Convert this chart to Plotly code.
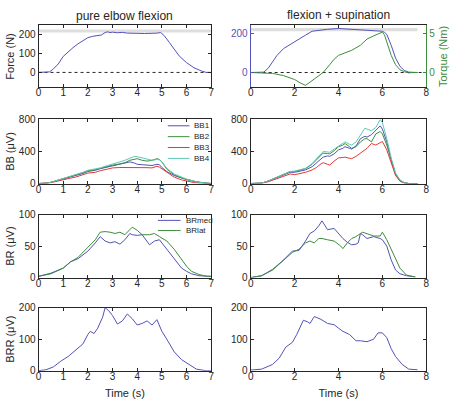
import plotly.graph_objects as go

W, H = 452, 400

# ---------------- data ----------------
# Row 1: force (N) and torque (Nm)
t_force_L = [0, 0.3, 0.45, 0.6, 0.8, 1.0, 1.2, 1.4, 1.6, 1.8, 2.0, 2.2, 2.4, 2.55, 2.7, 2.8, 2.9, 3.0, 3.2, 3.4, 3.6, 3.8, 4.0, 4.3, 4.6, 4.8, 4.95, 5.1, 5.3, 5.5, 5.7, 6.0, 6.3, 6.6, 6.8, 7.0]
force_L   = [0, 0, 3, 18, 45, 85, 110, 132, 152, 170, 185, 192, 195, 199, 212, 216, 212, 214, 211, 213, 209, 210, 208, 207, 206, 209, 212, 195, 160, 122, 88, 52, 25, 8, 0, 0]

t_force_R = [0, 0.4, 0.6, 0.8, 1.0, 1.2, 1.5, 1.8, 2.0, 2.2, 2.5, 2.8, 3.0, 3.5, 4.0, 4.5, 5.0, 5.5, 6.0, 6.1, 6.2, 6.4, 6.6, 6.8, 7.0, 7.2, 7.4, 7.6]
force_R   = [0, 0, 2, 22, 55, 88, 123, 145, 156, 172, 192, 212, 215, 222, 226, 223, 219, 216, 212, 206, 196, 140, 74, 32, 10, 2, 0, 0]

t_torque = [0, 0.5, 1.0, 1.5, 2.0, 2.3, 2.5, 2.7, 3.0, 3.3, 3.6, 3.8, 4.0, 4.3, 4.6, 5.0, 5.3, 5.6, 5.9, 6.0, 6.1, 6.2, 6.4, 6.6, 6.8, 7.0, 7.2, 7.4, 7.6]
torque   = [0, -0.02, -0.12, -0.4, -0.9, -1.4, -1.65, -1.25, -0.6, 0.0, 1.0, 1.7, 2.2, 2.55, 2.85, 3.5, 4.3, 4.7, 5.05, 5.2, 4.8, 3.9, 2.2, 1.0, 0.35, 0.1, -0.05, 0.0, 0.0]

# Row 2: BB channels (uV)
bb_names = ["BB1", "BB2", "BB3", "BB4"]
t_bb_L = [0, 0.3, 0.5, 0.8, 1.0, 1.3, 1.5, 1.8, 2.0, 2.3, 2.5, 2.8, 3.0, 3.3, 3.5, 3.7, 3.9, 4.0, 4.2, 4.4, 4.6, 4.8, 4.9, 5.0, 5.2, 5.5, 5.8, 6.0, 6.3, 6.5, 6.8, 7.0]
bb_L = [
    [0, 3, 15, 40, 60, 85, 100, 125, 150, 165, 185, 205, 220, 240, 255, 270, 255, 240, 235, 228, 225, 240, 235, 200, 150, 100, 65, 50, 28, 15, 4, 0],
    [0, 3, 15, 42, 65, 92, 110, 135, 160, 172, 190, 215, 230, 245, 260, 290, 305, 310, 290, 280, 290, 310, 300, 270, 180, 110, 68, 50, 28, 15, 4, 0],
    [0, 2, 10, 32, 50, 68, 80, 105, 130, 140, 160, 180, 195, 200, 200, 205, 205, 205, 200, 198, 195, 215, 205, 185, 140, 80, 45, 30, 12, 5, 1, 0],
    [0, 3, 15, 42, 65, 92, 110, 140, 165, 178, 195, 225, 240, 270, 290, 320, 340, 335, 320, 300, 290, 300, 295, 270, 190, 120, 75, 55, 30, 15, 4, 0],
]
t_bb_R = [0, 0.5, 0.8, 1.0, 1.3, 1.5, 1.8, 2.0, 2.3, 2.5, 2.8, 3.0, 3.2, 3.3, 3.5, 3.6, 3.8, 4.0, 4.2, 4.3, 4.5, 4.6, 4.8, 5.0, 5.2, 5.3, 5.5, 5.7, 5.9, 6.0, 6.2, 6.4, 6.6, 6.8, 7.0, 7.2, 7.6]
bb_R = [
    [0, 5, 30, 50, 80, 100, 140, 140, 160, 170, 210, 260, 310, 330, 345, 340, 370, 420, 440, 460, 440, 430, 470, 560, 590, 580, 610, 660, 720, 680, 520, 300, 120, 40, 10, 0, 0],
    [0, 5, 32, 55, 88, 110, 150, 150, 168, 185, 240, 300, 360, 380, 375, 370, 410, 460, 480, 500, 460, 440, 460, 520, 560, 560, 520, 620, 650, 620, 480, 280, 110, 35, 8, 0, 0],
    [0, 3, 22, 40, 70, 90, 120, 110, 125, 140, 170, 200, 245, 260, 240, 230, 280, 320, 325, 330, 315, 310, 340, 380, 420, 440, 500, 480, 510, 525, 420, 250, 100, 30, 5, 0, 0],
    [0, 5, 32, 55, 88, 110, 150, 155, 172, 190, 250, 310, 380, 400, 395, 390, 430, 470, 500, 520, 490, 480, 520, 600, 690, 680, 660, 700, 800, 760, 560, 320, 130, 45, 10, 0, 0],
]

# Row 3: BR channels (uV)
br_names = ["BRmed", "BRlat"]
t_br_L = [0, 0.5, 1.0, 1.3, 1.6, 2.0, 2.3, 2.5, 2.7, 2.9, 3.1, 3.3, 3.5, 3.7, 3.8, 4.0, 4.2, 4.5, 4.7, 4.9, 5.2, 5.5, 5.8, 6.0, 6.2, 6.5, 6.8, 7.0]
br_L = [
    [2, 7, 15, 25, 30, 42, 55, 65, 58, 55, 57, 53, 60, 70, 68, 67, 68, 52, 58, 60, 45, 30, 15, 10, 6, 3, 2, 2],
    [2, 6, 15, 25, 32, 48, 60, 72, 73, 72, 70, 72, 68, 76, 80, 75, 68, 68, 70, 65, 58, 45, 28, 18, 10, 5, 2, 2],
]
t_br_R = [0, 0.5, 1.0, 1.5, 1.9, 2.2, 2.5, 2.7, 2.9, 3.1, 3.25, 3.5, 3.8, 4.1, 4.2, 4.4, 4.6, 4.8, 4.9, 5.0, 5.1, 5.3, 5.6, 5.9, 6.0, 6.2, 6.4, 6.6, 6.8, 7.1, 7.5]
br_R = [
    [0, 3, 13, 28, 42, 43, 58, 70, 74, 82, 90, 76, 78, 66, 62, 56, 52, 53, 55, 70, 68, 62, 65, 62, 60, 50, 28, 12, 6, 3, 1],
    [0, 3, 12, 28, 40, 45, 55, 58, 55, 62, 62, 60, 58, 50, 46, 55, 62, 65, 68, 70, 72, 70, 66, 66, 72, 60, 45, 30, 15, 4, 1],
]

# Row 4: BRR (uV)
t_brr_L = [0, 0.3, 0.6, 0.9, 1.2, 1.5, 1.8, 2.0, 2.1, 2.25, 2.4, 2.6, 2.7, 2.85, 3.0, 3.2, 3.4, 3.6, 3.8, 4.0, 4.2, 4.4, 4.6, 4.8, 5.0, 5.2, 5.5, 5.8, 6.1, 6.4, 6.8, 7.0]
brr_L   = [0, 3, 12, 30, 45, 65, 85, 115, 125, 118, 135, 170, 200, 190, 175, 148, 158, 180, 165, 145, 150, 158, 145, 162, 125, 100, 60, 35, 20, 5, 0, 0]
t_brr_R = [0, 0.5, 1.0, 1.3, 1.6, 1.9, 2.1, 2.4, 2.6, 2.7, 2.9, 3.2, 3.5, 3.8, 4.0, 4.2, 4.5, 4.8, 5.0, 5.3, 5.6, 5.8, 6.0, 6.2, 6.4, 6.6, 6.9, 7.2, 7.6]
brr_R   = [2, 5, 20, 40, 75, 90, 115, 160, 155, 150, 172, 163, 150, 146, 135, 125, 115, 95, 95, 92, 100, 120, 120, 105, 70, 45, 20, 5, 3]

col_titles = ["pure elbow flexion", "flexion + supination"]
row_labels = ["Force (N)", "BB (\u03bcV)", "BR (\u03bcV)", "BRR (\u03bcV)"]
torque_label = "Torque (Nm)"
x_label = "Time (s)"
band_ends = [7.0, 7.6]

# ---------------- style ----------------
BLUE, GREEN, RED, CYAN = "#5252b8", "#3d8c3d", "#e0383c", "#5ec8b6"
bb_colors = [BLUE, GREEN, RED, CYAN]
br_colors = [BLUE, GREEN]
INK = "#262626"
FONT = "Liberation Sans, Arial, sans-serif"

def px(x):
    return x / W

def py(y):
    return 1 - y / H

cols = [(36, 211), (251, 429)]
rows = [(20, 84), (117, 183), (215, 280), (311, 376)]

fig = go.Figure()

def add(x, y, color, ax):
    fig.add_trace(go.Scatter(x=x, y=y, mode="lines", line=dict(color=color, width=1),
                             xaxis="x" + ax, yaxis="y" + ax, showlegend=False, hoverinfo="skip"))

# traces
add(t_force_L, force_L, BLUE, "1")
add(t_force_R, force_R, BLUE, "2")
fig.add_trace(go.Scatter(x=t_torque, y=torque, mode="lines", line=dict(color=GREEN, width=1),
                         xaxis="x2", yaxis="y9", showlegend=False, hoverinfo="skip"))
for vals, c in zip(bb_L, bb_colors):
    add(t_bb_L, vals, c, "3")
for vals, c in zip(bb_R, bb_colors):
    add(t_bb_R, vals, c, "4")
for vals, c in zip(br_L, br_colors):
    add(t_br_L, vals, c, "5")
for vals, c in zip(br_R, br_colors):
    add(t_br_R, vals, c, "6")
add(t_brr_L, brr_L, BLUE, "7")
add(t_brr_R, brr_R, BLUE, "8")

yranges = [[-80, 250], [0, 800], [0, 100], [0, 200]]
ytickv = [[0, 100, 200], [0, 400, 800], [0, 50, 100], [0, 100, 200]]
layout = {}
idx = 1
for r, (top, bot) in enumerate(rows):
    for c, (left, right) in enumerate(cols):
        xa = dict(domain=[px(left), px(right)], anchor="y%d" % idx,
                  range=[0, 7] if c == 0 else [0, 8],
                  tickvals=list(range(0, 8)) if c == 0 else [0, 2, 4, 6, 8],
                  showline=True, linecolor=INK, linewidth=1, mirror="ticks",
                  ticks="inside", ticklen=3, tickcolor=INK, showgrid=False, zeroline=False,
                  ticklabelstandoff=-4,
                  tickfont=dict(size=10, color=INK, family=FONT))
        if r == 3:
            xa["title"] = dict(text=x_label, font=dict(size=11, color=INK, family=FONT), standoff=8)
        ya = dict(domain=[py(bot), py(top)], anchor="x%d" % idx,
                  range=yranges[r], tickvals=ytickv[r],
                  showline=True, linecolor=INK, linewidth=1, mirror="ticks",
                  ticks="inside", ticklen=3, tickcolor=INK, showgrid=False, zeroline=False,
                  tickfont=dict(size=10, color=INK, family=FONT))
        if c == 0:
            ya["title"] = dict(text=row_labels[r], font=dict(size=11, color=INK, family=FONT), standoff=1)
        if r == 0 and c == 1:
            ya["range"] = [-77, 242]
            ya["tickvals"] = [0, 200]
            ya["linecolor"] = BLUE
            ya["tickcolor"] = BLUE
            ya["mirror"] = False
            ya["tickfont"] = dict(size=10, color=BLUE, family=FONT)
        layout["xaxis%d" % idx if idx > 1 else "xaxis"] = xa
        layout["yaxis%d" % idx if idx > 1 else "yaxis"] = ya
        idx += 1

layout["yaxis9"] = dict(overlaying="y2", anchor="x2", side="right",
                        range=[-77 / 40, 242 / 40], tickvals=[0, 5],
                        showline=True, linecolor=GREEN, linewidth=1, ticks="inside",
                        ticklen=3, tickcolor=GREEN, showgrid=False, zeroline=False,
                        tickfont=dict(size=10, color=GREEN, family=FONT),
                        title=dict(text=torque_label, font=dict(size=11, color=GREEN, family=FONT), standoff=4))

fig.update_layout(**layout)

shapes = []
annotations = []
# gray target band and dotted zero line in top row
for c, (xa, ya) in enumerate([("x", "y"), ("x2", "y2")]):
    shapes.append(dict(type="rect", xref=xa, yref=ya, x0=0, x1=band_ends[c], y0=212, y1=228,
                       fillcolor="#dedede", line=dict(width=0), layer="below"))
    shapes.append(dict(type="line", xref=xa + " domain", yref=ya, x0=0, x1=1, y0=0, y1=0,
                       line=dict(color=INK, width=1, dash="dot"), layer="below"))

# column titles
for c, (left, right) in enumerate(cols):
    annotations.append(dict(text=col_titles[c], xref="paper", yref="paper",
                            x=px((left + right) / 2), y=py(10 if c == 0 else 9),
                            xanchor="center", yanchor="middle", showarrow=False,
                            font=dict(size=12, color=INK, family=FONT)))

# compact legends (MATLAB style)
def legend(names, colors, x0, x1, ytop, step):
    for i, (n, col) in enumerate(zip(names, colors)):
        y = ytop + i * step
        shapes.append(dict(type="line", xref="paper", yref="paper", x0=px(x0), x1=px(x1),
                           y0=py(y), y1=py(y), line=dict(color=col, width=1)))
        annotations.append(dict(text=n, xref="paper", yref="paper", x=px(x1 + 3), y=py(y),
                                xanchor="left", yanchor="middle", showarrow=False,
                                font=dict(size=8, color=INK, family=FONT)))

legend(bb_names, bb_colors, 167, 189, 123.5, 11.2)
legend(br_names, br_colors, 157, 180, 221, 10.5)

fig.update_layout(width=W, height=H, margin=dict(l=0, r=0, t=0, b=0),
                  paper_bgcolor="white", plot_bgcolor="white",
                  shapes=shapes, annotations=annotations, showlegend=False,
                  font=dict(family=FONT, color=INK))

fig.write_html("out.html")
